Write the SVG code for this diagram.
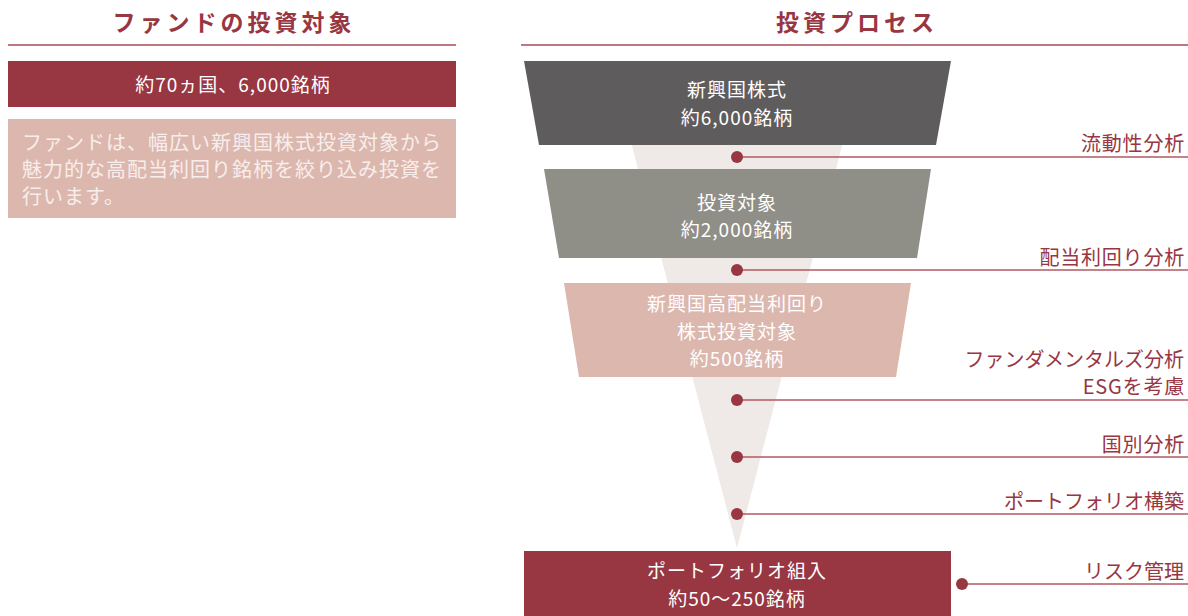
<svg xmlns="http://www.w3.org/2000/svg" width="1188" height="616" viewBox="0 0 1188 616">
<style>
text{font-family:"Noto Sans CJK JP","Noto Sans",sans-serif;}
.title{font-size:23px;font-weight:bold;fill:#983642;letter-spacing:4px;text-anchor:middle;}
.rule{stroke:#a84a55;stroke-width:1.5;}
.w{fill:#ffffff;font-size:19px;letter-spacing:1px;text-anchor:middle;}
.pk{fill:#f7eeec;font-size:20px;letter-spacing:1px;}
.lbl{fill:#983642;font-size:20px;letter-spacing:0.8px;text-anchor:end;}
.lk{letter-spacing:0px;}
.lead{stroke:#b35962;stroke-width:1.5;fill:none;}
.dot{fill:#983642;}
</style>
<rect width="1188" height="616" fill="#ffffff"/>
<g id="left-title">
<text class="title" x="234" y="31">ファンドの投資対象</text>
<line class="rule" x1="8" y1="45" x2="456" y2="45"/>
</g>
<g id="left-count">
<rect x="8" y="61" width="448" height="46" fill="#983642"/>
<text class="w" x="233" y="92">約70ヵ国、6,000銘柄</text>
</g>
<g id="left-desc">
<rect x="8" y="119" width="448" height="99" fill="#dcb7ae"/>
<text class="pk" x="22" y="150">ファンドは、幅広い新興国株式投資対象から</text>
<text class="pk" x="22" y="177">魅力的な高配当利回り銘柄を絞り込み投資を</text>
<text class="pk" x="22" y="204">行います。</text>
</g>
<g id="right-title">
<text class="title" x="857" y="31">投資プロセス</text>
<line class="rule" x1="521" y1="45" x2="1188" y2="45"/>
</g>
<g id="funnel-bg">
<polygon points="620,100 854,100 737,548" fill="#efe9e7"/>
</g>
<g id="stage1">
<polygon points="524,61 951,61 936,145 539,145" fill="#5f5c5d"/>
<text class="w" x="737" y="97">新興国株式</text>
<text class="w" x="737" y="125">約6,000銘柄</text>
</g>
<g id="stage2">
<polygon points="544,169 931,169 917,258 559,258" fill="#8f8f88"/>
<text class="w" x="737" y="210">投資対象</text>
<text class="w" x="737" y="237">約2,000銘柄</text>
</g>
<g id="stage3">
<polygon points="564,283 911,283 896,377 579,377" fill="#dcb7ae"/>
<text class="w" x="737" y="311">新興国高配当利回り</text>
<text class="w" x="737" y="339">株式投資対象</text>
<text class="w" x="737" y="366">約500銘柄</text>
</g>
<g id="stage4">
<rect x="524" y="551" width="427" height="65" fill="#983642"/>
<text class="w" x="737" y="578">ポートフォリオ組入</text>
<text class="w" x="737" y="606">約50〜250銘柄</text>
</g>
<g id="connectors">
<line class="lead" x1="737" y1="157" x2="1188" y2="157"/>
<line class="lead" x1="737" y1="270" x2="1188" y2="270"/>
<line class="lead" x1="737" y1="400" x2="1188" y2="400"/>
<line class="lead" x1="737" y1="457" x2="1188" y2="457"/>
<line class="lead" x1="737" y1="514" x2="1188" y2="514"/>
<line class="lead" x1="962" y1="584" x2="1188" y2="584"/>
<circle class="dot" cx="737" cy="157" r="6"/>
<circle class="dot" cx="737" cy="270" r="6"/>
<circle class="dot" cx="737" cy="400" r="6"/>
<circle class="dot" cx="737" cy="457" r="6"/>
<circle class="dot" cx="737" cy="514" r="6"/>
<circle class="dot" cx="962" cy="584" r="6"/>
</g>
<g id="labels">
<text class="lbl" x="1185" y="151">流動性分析</text>
<text class="lbl" x="1185" y="265">配当利回り分析</text>
<text class="lbl lk" x="1184" y="367">ファンダメンタルズ分析</text>
<text class="lbl" x="1185" y="394">ESGを考慮</text>
<text class="lbl" x="1185" y="452">国別分析</text>
<text class="lbl lk" x="1184" y="509">ポートフォリオ構築</text>
<text class="lbl lk" x="1184" y="579">リスク管理</text>
</g>
</svg>
